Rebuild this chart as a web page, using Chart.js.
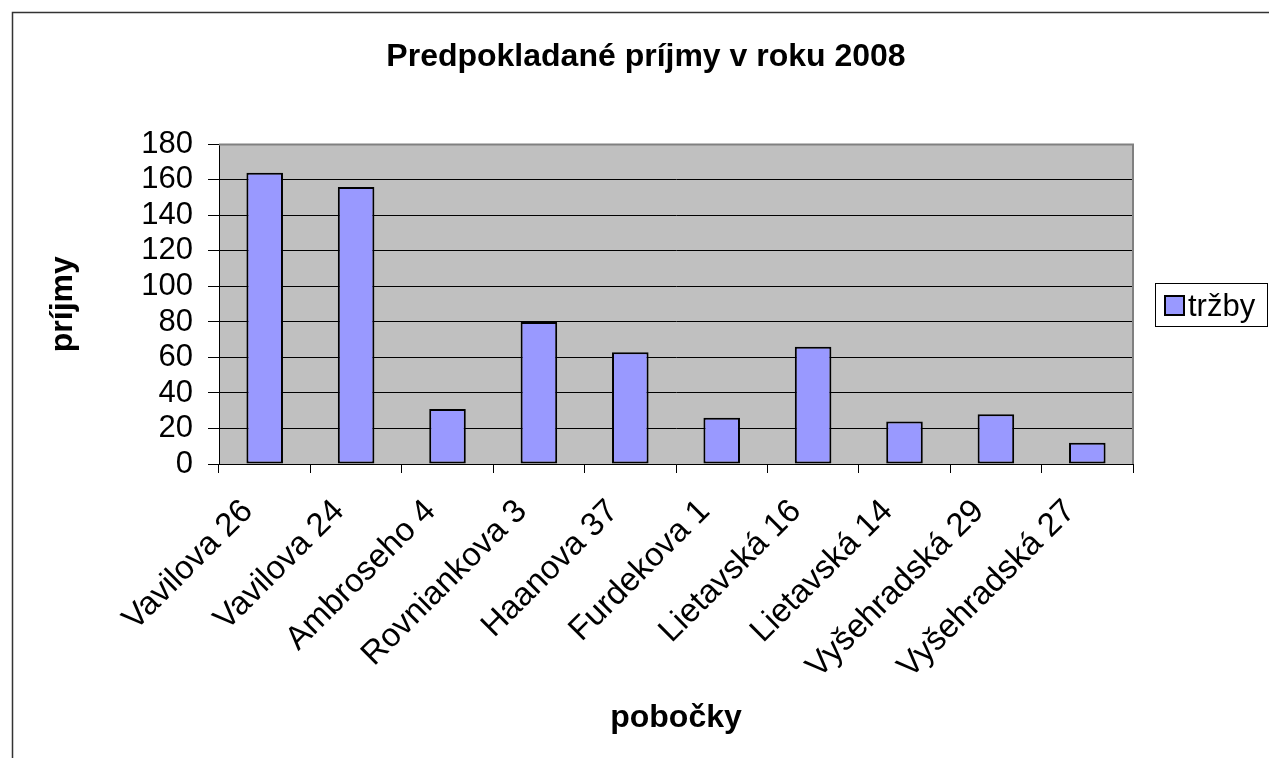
<!DOCTYPE html>
<html>
<head>
<meta charset="utf-8">
<title>Predpokladané príjmy v roku 2008</title>
<script src="https://cdn.jsdelivr.net/npm/chart.js@4"></script>
<style>
  html, body { margin: 0; padding: 0; background: #fff; }
  #wrap { width: 1269px; height: 758px; position: relative; }
</style>
</head>
<body>
<div id="wrap"><canvas id="revenueChart"></canvas></div>
<script>
// data
const categories = [
  'Vavilova 26',
  'Vavilova 24',
  'Ambroseho 4',
  'Rovniankova 3',
  'Haanova 37',
  'Furdekova 1',
  'Lietavská 16',
  'Lietavská 14',
  'Vyšehradská 29',
  'Vyšehradská 27',
];
const trzby = [164, 156, 31, 80, 63, 26, 66, 24, 28, 12];
const yTicks = [0, 20, 40, 60, 80, 100, 120, 140, 160, 180];

const FONT = '"Liberation Sans", Arial, sans-serif';

// plot background, gray border, outer frame, legend box
const excelLook = {
  id: 'excelLook',
  beforeDraw(chart) {
    const { ctx, chartArea: a } = chart;
    ctx.save();
    ctx.fillStyle = '#C0C0C0';
    ctx.fillRect(a.left, a.top, a.right - a.left, a.bottom - a.top);
    ctx.restore();
  },
  afterDraw(chart) {
    const { ctx, chartArea: a } = chart;
    ctx.save();
    // gray border of the plot area (top and right)
    ctx.strokeStyle = '#808080';
    ctx.lineWidth = 2;
    ctx.beginPath();
    ctx.moveTo(a.left, a.top);
    ctx.lineTo(a.right, a.top);
    ctx.lineTo(a.right, a.bottom);
    ctx.stroke();

    // outer chart frame
    ctx.strokeStyle = '#333';
    ctx.lineWidth = 1.5;
    ctx.beginPath();
    ctx.moveTo(12.5, 758);
    ctx.lineTo(12.5, 12.5);
    ctx.lineTo(1269, 12.5);
    ctx.stroke();

    // legend
    const ds = chart.data.datasets[0];
    ctx.strokeStyle = '#000';
    ctx.lineWidth = 1;
    ctx.fillStyle = '#fff';
    ctx.fillRect(1155.5, 283.5, 112, 43);
    ctx.strokeRect(1155.5, 283.5, 112, 43);
    ctx.fillStyle = ds.backgroundColor;
    ctx.fillRect(1165, 296, 19, 19);
    ctx.lineWidth = 2;
    ctx.strokeRect(1165, 296, 19, 19);
    ctx.fillStyle = '#000';
    ctx.font = '31px ' + FONT;
    ctx.textBaseline = 'alphabetic';
    ctx.fillText(ds.label, 1188, 316);
    ctx.restore();
  },
};

const ctx = document.getElementById('revenueChart').getContext('2d');
new Chart(ctx, {
  type: 'bar',
  data: {
    labels: categories,
    datasets: [
      {
        label: 'tržby',
        data: trzby,
        backgroundColor: '#9999FF',
        borderColor: '#000',
        borderWidth: 2,
        borderSkipped: false,
        categoryPercentage: 1,
        barPercentage: 0.4,
      },
    ],
  },
  options: {
    responsive: true,
    maintainAspectRatio: false,
    animation: false,
    layout: {
      padding: { left: 23, right: 0, top: 0, bottom: 0 },
    },
    plugins: {
      legend: { display: false },
      tooltip: { enabled: false },
      title: {
        display: true,
        text: 'Predpokladané príjmy v roku 2008',
        color: '#000',
        font: { family: FONT, size: 32, weight: 'bold' },
        padding: { top: 38, bottom: 68 },
      },
    },
    scales: {
      x: {
        afterFit(scale) {
          scale.height = 294;
        },
        grid: {
          display: true,
          offset: true,
          drawOnChartArea: false,
          drawTicks: true,
          tickLength: 9,
          color: '#000',
        },
        border: { display: true, color: '#000', width: 1 },
        ticks: {
          color: '#000',
          font: { family: FONT, size: 33 },
          minRotation: 45,
          maxRotation: 45,
          autoSkip: false,
          padding: 19,
          labelOffset: -17,
        },
        title: {
          display: true,
          text: 'pobočky',
          color: '#000',
          font: { family: FONT, size: 32, weight: 'bold' },
          padding: { top: 0, bottom: 21 },
        },
      },
      y: {
        min: 0,
        max: 180,
        afterFit(scale) {
          scale.width = 196;
        },
        afterBuildTicks(scale) {
          scale.ticks = yTicks.map((v) => ({ value: v }));
        },
        grid: {
          color: '#000',
          drawTicks: true,
          tickLength: 11,
        },
        border: { display: true, color: '#000', width: 1 },
        ticks: {
          color: '#000',
          font: { family: FONT, size: 31 },
          padding: 15,
          autoSkip: false,
        },
        title: {
          display: true,
          text: 'príjmy',
          color: '#000',
          font: { family: FONT, size: 32, weight: 'bold' },
          padding: { top: 21, bottom: 0 },
        },
      },
      // empty right-hand box that keeps room for the legend
      legendRoom: {
        type: 'linear',
        position: 'right',
        display: true,
        min: 0,
        max: 1,
        afterFit(scale) {
          scale.width = 136;
        },
        grid: { display: false },
        border: { display: false },
        ticks: { display: false },
      },
    },
  },
  plugins: [excelLook],
});
</script>
</body>
</html>
